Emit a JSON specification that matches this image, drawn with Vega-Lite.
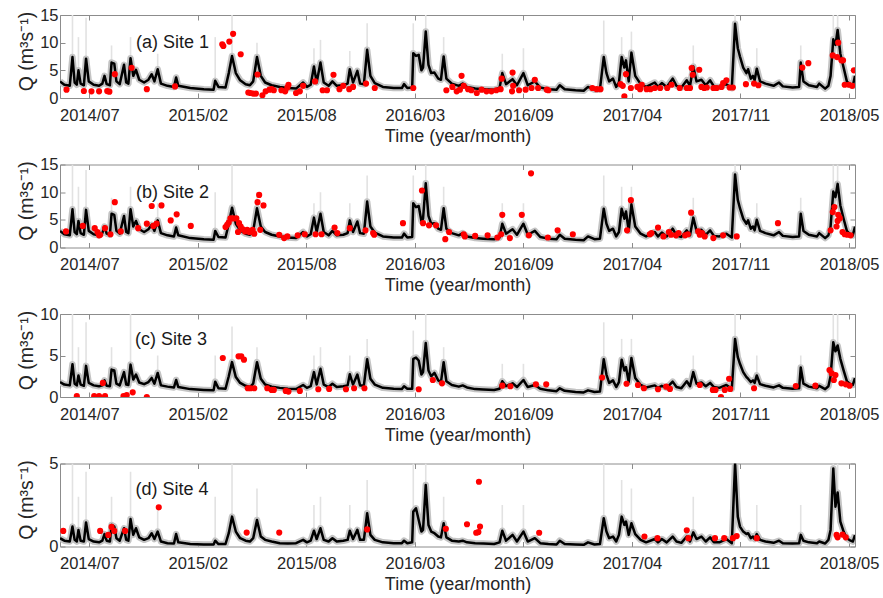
{
  "$schema": "https://vega.github.io/schema/vega-lite/v6.json",
  "background": "white",
  "padding": {"left": 16, "top": 7, "right": 5, "bottom": 0},
  "config": {
    "font": "Liberation Sans",
    "view": {"stroke": null},
    "axis": {
      "grid": false,
      "domainColor": "#8c8c8c",
      "domainWidth": 1,
      "tickColor": "#8c8c8c",
      "tickSize": -5,
      "labelFont": "Liberation Sans",
      "labelFontSize": 16.5,
      "labelColor": "#262626",
      "titleFont": "Liberation Sans",
      "titleFontSize": 18,
      "titleFontWeight": "normal",
      "titleColor": "#262626",
      "labelFlush": false,
      "labelOverlap": false
    },
    "axisX": {"labelPadding": 14, "titleY": 38, "titleBaseline": "middle"},
    "axisY": {"labelPadding": 7, "titleX": -34, "titleY": 36, "titleBaseline": "middle", "titleFontSize": 19.5}
  },
  "datasets": {
    "flow": [
      {"t":"2014-05-27","q1":3.0,"q2":3.0,"q3":1.8,"q4":0.5},
      {"t":"2014-06-04","q1":2.4,"q2":2.4,"q3":1.5,"q4":0.35},
      {"t":"2014-06-14","q1":2.2,"q2":2.2,"q3":1.4,"q4":0.3},
      {"t":"2014-06-19","q1":7.4,"q2":6.9,"q3":3.95,"q4":1.2,"u1":15,"u2":15,"u3":10,"u4":5},
      {"t":"2014-06-23","q1":2.8,"q2":2.8,"q3":1.6,"q4":0.4},
      {"t":"2014-06-27","q1":2.4,"q2":2.4,"q3":1.4,"q4":0.3},
      {"t":"2014-06-30","q1":5.0,"q2":4.8,"q3":2.6,"q4":1.0,"u1":11,"u2":11,"u3":6,"u4":3},
      {"t":"2014-07-04","q1":2.6,"q2":2.6,"q3":1.5,"q4":0.35},
      {"t":"2014-07-10","q1":2.3,"q2":2.3,"q3":1.35,"q4":0.3},
      {"t":"2014-07-14","q1":7.1,"q2":6.8,"q3":3.75,"q4":1.45,"u1":14.5,"u2":14,"u3":9,"u4":4.5},
      {"t":"2014-07-19","q1":3.0,"q2":3.0,"q3":1.7,"q4":0.45},
      {"t":"2014-07-28","q1":2.4,"q2":2.4,"q3":1.4,"q4":0.3},
      {"t":"2014-08-07","q1":2.2,"q2":2.2,"q3":1.3,"q4":0.25},
      {"t":"2014-08-13","q1":2.6,"q2":2.6,"q3":1.4,"q4":0.35},
      {"t":"2014-08-17","q1":4.0,"q2":3.8,"q3":2.0,"q4":0.75},
      {"t":"2014-08-21","q1":2.5,"q2":2.5,"q3":1.35,"q4":0.35},
      {"t":"2014-08-27","q1":2.3,"q2":2.3,"q3":1.3,"q4":0.3},
      {"t":"2014-08-30","q1":6.4,"q2":6.1,"q3":3.3,"q4":1.3,"u1":9.5,"u2":9,"u3":6,"u4":3},
      {"t":"2014-09-04","q1":6.2,"q2":5.9,"q3":3.2,"q4":1.2},
      {"t":"2014-09-08","q1":3.0,"q2":3.0,"q3":1.6,"q4":0.5},
      {"t":"2014-09-14","q1":2.5,"q2":2.5,"q3":1.4,"q4":0.35},
      {"t":"2014-09-22","q1":6.0,"q2":5.7,"q3":3.0,"q4":1.1},
      {"t":"2014-09-26","q1":2.8,"q2":2.8,"q3":1.5,"q4":0.4},
      {"t":"2014-09-30","q1":2.6,"q2":2.6,"q3":1.45,"q4":0.35},
      {"t":"2014-10-04","q1":7.2,"q2":6.9,"q3":3.9,"q4":1.65,"u1":11,"u2":11,"u3":10,"u4":4.5},
      {"t":"2014-10-09","q1":4.0,"q2":3.8,"q3":2.1,"q4":0.7},
      {"t":"2014-10-14","q1":5.1,"q2":4.8,"q3":2.7,"q4":1.1},
      {"t":"2014-10-20","q1":3.3,"q2":3.3,"q3":1.75,"q4":0.55},
      {"t":"2014-10-29","q1":2.8,"q2":2.8,"q3":1.55,"q4":0.4},
      {"t":"2014-11-06","q1":3.3,"q2":3.3,"q3":1.8,"q4":0.5},
      {"t":"2014-11-12","q1":4.3,"q2":4.1,"q3":2.3,"q4":0.8},
      {"t":"2014-11-17","q1":3.0,"q2":3.0,"q3":1.6,"q4":0.45},
      {"t":"2014-11-23","q1":5.2,"q2":4.9,"q3":2.9,"q4":0.9,"u1":8,"u2":8,"u3":5,"u4":2.5},
      {"t":"2014-11-29","q1":2.6,"q2":2.6,"q3":1.4,"q4":0.3},
      {"t":"2014-12-11","q1":2.2,"q2":2.2,"q3":1.25,"q4":0.2},
      {"t":"2014-12-23","q1":2.0,"q2":2.0,"q3":1.15,"q4":0.18},
      {"t":"2014-12-27","q1":3.7,"q2":3.6,"q3":2.05,"q4":0.75},
      {"t":"2014-12-31","q1":2.2,"q2":2.2,"q3":1.2,"q4":0.25},
      {"t":"2015-01-22","q1":1.8,"q2":1.7,"q3":0.95,"q4":0.15},
      {"t":"2015-02-16","q1":1.6,"q2":1.5,"q3":0.85,"q4":0.12},
      {"t":"2015-03-06","q1":1.5,"q2":1.4,"q3":0.8,"q4":0.12},
      {"t":"2015-03-09","q1":3.1,"q2":3.0,"q3":1.85,"q4":0.35,"u1":11,"u2":10,"u3":5,"u4":3},
      {"t":"2015-03-15","q1":2.0,"q2":1.9,"q3":1.05,"q4":0.15},
      {"t":"2015-03-28","q1":1.9,"q2":1.8,"q3":1.0,"q4":0.15},
      {"t":"2015-04-03","q1":4.5,"q2":4.3,"q3":2.5,"q4":0.8},
      {"t":"2015-04-09","q1":7.6,"q2":7.2,"q3":4.2,"q4":1.8,"u1":15,"u2":15,"u3":8.5,"u4":5},
      {"t":"2015-04-16","q1":4.5,"q2":4.3,"q3":2.4,"q4":0.9},
      {"t":"2015-04-24","q1":3.2,"q2":3.1,"q3":1.7,"q4":0.5},
      {"t":"2015-05-04","q1":2.5,"q2":2.5,"q3":1.35,"q4":0.35},
      {"t":"2015-05-12","q1":2.3,"q2":2.3,"q3":1.2,"q4":0.3},
      {"t":"2015-05-18","q1":3.0,"q2":3.0,"q3":1.6,"q4":0.5},
      {"t":"2015-05-25","q1":7.4,"q2":7.1,"q3":4.2,"q4":1.6,"u1":10,"u2":10,"u3":6,"u4":3.5},
      {"t":"2015-06-01","q1":4.0,"q2":3.8,"q3":2.2,"q4":0.6},
      {"t":"2015-06-09","q1":2.8,"q2":2.8,"q3":1.5,"q4":0.4},
      {"t":"2015-06-21","q1":2.3,"q2":2.3,"q3":1.25,"q4":0.3},
      {"t":"2015-07-06","q1":2.0,"q2":2.0,"q3":1.1,"q4":0.2},
      {"t":"2015-07-21","q1":1.8,"q2":1.8,"q3":1.0,"q4":0.18},
      {"t":"2015-08-05","q1":1.7,"q2":1.7,"q3":0.95,"q4":0.2},
      {"t":"2015-08-18","q1":2.8,"q2":2.8,"q3":1.45,"q4":0.4},
      {"t":"2015-08-25","q1":2.0,"q2":2.0,"q3":1.1,"q4":0.25},
      {"t":"2015-09-01","q1":2.4,"q2":2.4,"q3":1.3,"q4":0.35},
      {"t":"2015-09-07","q1":5.7,"q2":5.4,"q3":3.0,"q4":0.95,"u1":9,"u2":8,"u3":5,"u4":2.5},
      {"t":"2015-09-12","q1":2.8,"q2":2.8,"q3":1.5,"q4":0.45},
      {"t":"2015-09-19","q1":6.4,"q2":6.1,"q3":3.4,"q4":1.1,"u1":10.5,"u2":10,"u3":6,"u4":3},
      {"t":"2015-09-25","q1":2.8,"q2":2.8,"q3":1.5,"q4":0.4},
      {"t":"2015-10-04","q1":2.2,"q2":2.2,"q3":1.2,"q4":0.3},
      {"t":"2015-10-11","q1":3.0,"q2":3.0,"q3":1.6,"q4":0.5},
      {"t":"2015-10-19","q1":2.2,"q2":2.2,"q3":1.2,"q4":0.3},
      {"t":"2015-10-31","q1":2.3,"q2":2.3,"q3":1.3,"q4":0.35},
      {"t":"2015-11-08","q1":2.6,"q2":2.6,"q3":1.4,"q4":0.4},
      {"t":"2015-11-12","q1":5.2,"q2":4.9,"q3":2.75,"q4":0.95,"u1":8.5,"u2":8,"u3":5,"u4":2.5},
      {"t":"2015-11-18","q1":2.8,"q2":2.8,"q3":1.5,"q4":0.45},
      {"t":"2015-11-26","q1":4.9,"q2":4.7,"q3":2.7,"q4":1.0},
      {"t":"2015-12-01","q1":2.6,"q2":2.6,"q3":1.4,"q4":0.4},
      {"t":"2015-12-08","q1":2.5,"q2":2.5,"q3":1.4,"q4":0.4},
      {"t":"2015-12-14","q1":8.7,"q2":8.3,"q3":4.55,"q4":2.0,"u1":13.5,"u2":13,"u3":7,"u4":4},
      {"t":"2015-12-20","q1":4.0,"q2":3.8,"q3":2.2,"q4":0.7},
      {"t":"2015-12-28","q1":2.7,"q2":2.7,"q3":1.5,"q4":0.4},
      {"t":"2016-01-12","q1":2.0,"q2":2.0,"q3":1.1,"q4":0.25},
      {"t":"2016-02-01","q1":1.8,"q2":1.8,"q3":1.0,"q4":0.2},
      {"t":"2016-02-16","q1":1.8,"q2":1.8,"q3":0.95,"q4":0.2},
      {"t":"2016-02-20","q1":2.5,"q2":2.5,"q3":1.3,"q4":0.35},
      {"t":"2016-02-26","q1":1.8,"q2":1.8,"q3":1.0,"q4":0.2},
      {"t":"2016-03-06","q1":1.9,"q2":1.9,"q3":1.0,"q4":0.25},
      {"t":"2016-03-08","q1":8.1,"q2":8.0,"q3":4.6,"q4":2.1,"u1":13.5,"u2":13,"u3":8,"u4":5},
      {"t":"2016-03-13","q1":7.6,"q2":7.3,"q3":4.75,"q4":2.3},
      {"t":"2016-03-18","q1":7.8,"q2":7.5,"q3":4.4,"q4":1.6},
      {"t":"2016-03-23","q1":5.0,"q2":4.8,"q3":2.7,"q4":0.9},
      {"t":"2016-03-26","q1":5.5,"q2":5.2,"q3":3.0,"q4":1.0},
      {"t":"2016-03-31","q1":12.0,"q2":11.6,"q3":6.5,"q4":3.7,"u1":15,"u2":15,"u3":10,"u4":5},
      {"t":"2016-04-05","q1":6.0,"q2":5.7,"q3":3.2,"q4":1.3},
      {"t":"2016-04-10","q1":4.5,"q2":4.3,"q3":2.5,"q4":0.9},
      {"t":"2016-04-16","q1":4.6,"q2":4.4,"q3":2.9,"q4":0.8},
      {"t":"2016-04-23","q1":3.5,"q2":3.4,"q3":2.0,"q4":0.6},
      {"t":"2016-04-28","q1":3.3,"q2":3.2,"q3":1.8,"q4":0.55},
      {"t":"2016-05-03","q1":7.5,"q2":7.1,"q3":4.2,"q4":1.4,"u1":11,"u2":11,"u3":6,"u4":3},
      {"t":"2016-05-08","q1":3.5,"q2":3.4,"q3":1.9,"q4":0.55},
      {"t":"2016-05-18","q1":2.6,"q2":2.6,"q3":1.45,"q4":0.35},
      {"t":"2016-05-31","q1":2.2,"q2":2.2,"q3":1.25,"q4":0.3},
      {"t":"2016-06-07","q1":2.6,"q2":2.6,"q3":1.4,"q4":0.35},
      {"t":"2016-06-15","q1":2.0,"q2":2.0,"q3":1.15,"q4":0.25},
      {"t":"2016-06-30","q1":1.7,"q2":1.7,"q3":0.95,"q4":0.2},
      {"t":"2016-07-15","q1":1.6,"q2":1.6,"q3":0.9,"q4":0.18},
      {"t":"2016-08-04","q1":1.5,"q2":1.5,"q3":0.85,"q4":0.15},
      {"t":"2016-08-14","q1":1.8,"q2":1.8,"q3":1.0,"q4":0.25},
      {"t":"2016-08-19","q1":4.5,"q2":4.3,"q3":1.9,"q4":0.95,"u1":8,"u2":8,"u3":4,"u4":2.5},
      {"t":"2016-08-26","q1":2.5,"q2":2.5,"q3":1.3,"q4":0.35},
      {"t":"2016-09-07","q1":3.4,"q2":3.3,"q3":1.65,"q4":0.7},
      {"t":"2016-09-15","q1":2.3,"q2":2.3,"q3":1.2,"q4":0.3},
      {"t":"2016-09-27","q1":4.5,"q2":4.3,"q3":2.05,"q4":0.9,"u1":9,"u2":8,"u3":4,"u4":2.5},
      {"t":"2016-10-05","q1":2.3,"q2":2.3,"q3":1.2,"q4":0.3},
      {"t":"2016-10-18","q1":3.0,"q2":3.0,"q3":1.45,"q4":0.5},
      {"t":"2016-10-28","q1":1.9,"q2":1.9,"q3":1.0,"q4":0.2},
      {"t":"2016-11-12","q1":1.6,"q2":1.6,"q3":0.8,"q4":0.15},
      {"t":"2016-11-27","q1":1.5,"q2":1.5,"q3":0.7,"q4":0.12},
      {"t":"2016-12-03","q1":2.3,"q2":2.3,"q3":1.05,"q4":0.35},
      {"t":"2016-12-12","q1":1.6,"q2":1.6,"q3":0.75,"q4":0.15},
      {"t":"2017-01-01","q1":1.4,"q2":1.4,"q3":0.6,"q4":0.12},
      {"t":"2017-01-16","q1":1.3,"q2":1.3,"q3":0.55,"q4":0.1},
      {"t":"2017-01-24","q1":2.0,"q2":2.0,"q3":0.8,"q4":0.25},
      {"t":"2017-02-05","q1":1.5,"q2":1.5,"q3":0.6,"q4":0.12},
      {"t":"2017-02-15","q1":1.6,"q2":1.6,"q3":0.65,"q4":0.15},
      {"t":"2017-02-22","q1":7.4,"q2":7.0,"q3":4.55,"q4":1.7,"u1":14,"u2":13,"u3":9,"u4":5},
      {"t":"2017-02-27","q1":4.5,"q2":4.3,"q3":2.7,"q4":0.9},
      {"t":"2017-03-04","q1":3.0,"q2":3.0,"q3":1.7,"q4":0.5},
      {"t":"2017-03-11","q1":3.5,"q2":3.4,"q3":2.0,"q4":0.6},
      {"t":"2017-03-17","q1":2.0,"q2":2.0,"q3":1.2,"q4":0.3},
      {"t":"2017-03-22","q1":2.8,"q2":2.8,"q3":1.8,"q4":0.7},
      {"t":"2017-03-27","q1":7.4,"q2":7.0,"q3":4.5,"q4":1.8,"u1":11,"u2":11,"u3":7,"u4":4},
      {"t":"2017-04-01","q1":5.5,"q2":5.2,"q3":3.2,"q4":1.3},
      {"t":"2017-04-04","q1":6.8,"q2":6.5,"q3":3.6,"q4":1.5},
      {"t":"2017-04-09","q1":3.0,"q2":3.0,"q3":1.8,"q4":0.7},
      {"t":"2017-04-14","q1":8.2,"q2":7.8,"q3":4.7,"q4":1.4,"u1":12,"u2":11,"u3":7,"u4":3.5},
      {"t":"2017-04-21","q1":4.0,"q2":3.8,"q3":2.3,"q4":0.75},
      {"t":"2017-05-01","q1":2.5,"q2":2.5,"q3":1.45,"q4":0.4},
      {"t":"2017-05-11","q1":2.0,"q2":2.0,"q3":1.15,"q4":0.25},
      {"t":"2017-05-27","q1":2.8,"q2":2.8,"q3":1.4,"q4":0.45},
      {"t":"2017-06-02","q1":2.0,"q2":2.0,"q3":1.1,"q4":0.25},
      {"t":"2017-06-09","q1":2.7,"q2":2.7,"q3":1.35,"q4":0.45},
      {"t":"2017-06-18","q1":2.0,"q2":2.0,"q3":1.1,"q4":0.25},
      {"t":"2017-06-29","q1":3.5,"q2":3.4,"q3":1.85,"q4":0.6},
      {"t":"2017-07-06","q1":2.2,"q2":2.2,"q3":1.2,"q4":0.3},
      {"t":"2017-07-15","q1":1.9,"q2":1.9,"q3":1.05,"q4":0.22},
      {"t":"2017-07-25","q1":3.2,"q2":3.1,"q3":1.9,"q4":0.6},
      {"t":"2017-07-31","q1":2.2,"q2":2.2,"q3":1.3,"q4":0.3},
      {"t":"2017-08-06","q1":5.7,"q2":5.4,"q3":3.0,"q4":0.85,"u1":9.5,"u2":9,"u3":5,"u4":3},
      {"t":"2017-08-12","q1":3.0,"q2":3.0,"q3":1.6,"q4":0.45},
      {"t":"2017-08-21","q1":3.3,"q2":3.2,"q3":1.75,"q4":0.6},
      {"t":"2017-08-29","q1":2.3,"q2":2.3,"q3":1.3,"q4":0.3},
      {"t":"2017-09-06","q1":3.2,"q2":3.1,"q3":1.7,"q4":0.55},
      {"t":"2017-09-13","q1":2.1,"q2":2.1,"q3":1.2,"q4":0.25},
      {"t":"2017-09-23","q1":2.0,"q2":2.0,"q3":1.1,"q4":0.25},
      {"t":"2017-10-06","q1":2.5,"q2":2.5,"q3":1.45,"q4":0.45},
      {"t":"2017-10-16","q1":1.8,"q2":1.8,"q3":1.0,"q4":0.2},
      {"t":"2017-10-22","q1":13.4,"q2":13.2,"q3":7.0,"q4":5.0,"u1":15,"u2":15,"u3":10,"u4":5},
      {"t":"2017-10-27","q1":9.0,"q2":8.6,"q3":4.8,"q4":1.8},
      {"t":"2017-10-31","q1":7.5,"q2":7.1,"q3":4.0,"q4":1.2},
      {"t":"2017-11-06","q1":5.5,"q2":5.2,"q3":3.0,"q4":0.9},
      {"t":"2017-11-12","q1":4.5,"q2":4.3,"q3":2.4,"q4":0.75},
      {"t":"2017-11-15","q1":5.2,"q2":4.9,"q3":2.2,"q4":0.8},
      {"t":"2017-11-20","q1":3.5,"q2":3.4,"q3":1.8,"q4":0.5},
      {"t":"2017-11-24","q1":4.0,"q2":3.8,"q3":2.0,"q4":0.6},
      {"t":"2017-11-27","q1":3.2,"q2":3.1,"q3":1.7,"q4":0.45},
      {"t":"2017-12-01","q1":5.3,"q2":5.0,"q3":2.6,"q4":0.75,"u1":9,"u2":8,"u3":5,"u4":2.5},
      {"t":"2017-12-07","q1":3.0,"q2":3.0,"q3":1.55,"q4":0.4},
      {"t":"2017-12-17","q1":2.6,"q2":2.6,"q3":1.35,"q4":0.3},
      {"t":"2018-01-01","q1":2.2,"q2":2.2,"q3":1.15,"q4":0.22},
      {"t":"2018-01-11","q1":2.8,"q2":2.8,"q3":1.4,"q4":0.35},
      {"t":"2018-01-18","q1":2.1,"q2":2.1,"q3":1.1,"q4":0.2},
      {"t":"2018-02-05","q1":1.9,"q2":1.9,"q3":1.0,"q4":0.18},
      {"t":"2018-02-17","q1":2.0,"q2":2.0,"q3":1.05,"q4":0.2},
      {"t":"2018-02-20","q1":6.4,"q2":6.1,"q3":3.55,"q4":0.7,"u1":9.5,"u2":9,"u3":5,"u4":2.5},
      {"t":"2018-02-25","q1":3.0,"q2":3.0,"q3":1.6,"q4":0.35},
      {"t":"2018-03-07","q1":2.3,"q2":2.3,"q3":1.25,"q4":0.25},
      {"t":"2018-03-22","q1":2.0,"q2":2.0,"q3":1.05,"q4":0.2},
      {"t":"2018-03-26","q1":2.6,"q2":2.6,"q3":1.35,"q4":0.3},
      {"t":"2018-04-06","q1":1.7,"q2":1.7,"q3":0.95,"q4":0.18},
      {"t":"2018-04-12","q1":2.2,"q2":2.2,"q3":1.3,"q4":0.4},
      {"t":"2018-04-16","q1":4.0,"q2":3.8,"q3":2.5,"q4":1.0},
      {"t":"2018-04-21","q1":10.6,"q2":10.1,"q3":6.6,"q4":4.7,"u1":15,"u2":15,"u3":10,"u4":5},
      {"t":"2018-04-25","q1":9.6,"q2":9.1,"q3":5.5,"q4":2.4},
      {"t":"2018-04-29","q1":12.3,"q2":11.5,"q3":6.2,"q4":3.25,"u1":15,"u2":15,"u3":10,"u4":5},
      {"t":"2018-05-04","q1":8.0,"q2":7.6,"q3":4.6,"q4":1.5},
      {"t":"2018-05-10","q1":5.5,"q2":5.2,"q3":3.2,"q4":0.9},
      {"t":"2018-05-16","q1":3.0,"q2":3.0,"q3":1.9,"q4":0.5},
      {"t":"2018-05-23","q1":2.3,"q2":2.3,"q3":1.5,"q4":0.35},
      {"t":"2018-05-27","q1":2.2,"q2":2.2,"q3":1.45,"q4":0.3},
      {"t":"2018-05-31","q1":4.0,"q2":3.8,"q3":2.3,"q4":0.7}
    ],
    "obs": [
      {"s":1,"t":"2014-06-08","q":1.5},{"s":1,"t":"2014-07-10","q":1.26},{"s":1,"t":"2014-07-24","q":1.2},
      {"s":1,"t":"2014-08-07","q":1.2},{"s":1,"t":"2014-08-22","q":1.25},{"s":1,"t":"2014-08-26","q":1.15},
      {"s":1,"t":"2014-09-05","q":4.3},{"s":1,"t":"2014-10-06","q":5.45},{"s":1,"t":"2014-11-03","q":1.6},
      {"s":1,"t":"2014-12-25","q":2.1},{"s":1,"t":"2015-03-22","q":9.7},{"s":1,"t":"2015-03-24","q":9.4},
      {"s":1,"t":"2015-04-04","q":10.2},{"s":1,"t":"2015-04-11","q":11.6},{"s":1,"t":"2015-04-25","q":7.9},
      {"s":1,"t":"2015-05-09","q":1.0},{"s":1,"t":"2015-05-13","q":0.9},{"s":1,"t":"2015-05-18","q":0.8},
      {"s":1,"t":"2015-05-23","q":0.8},{"s":1,"t":"2015-05-26","q":4.25},{"s":1,"t":"2015-06-04","q":0.5},
      {"s":1,"t":"2015-06-10","q":1.2},{"s":1,"t":"2015-06-17","q":1.5},{"s":1,"t":"2015-06-21","q":1.6},
      {"s":1,"t":"2015-06-25","q":1.4},{"s":1,"t":"2015-07-09","q":1.4},{"s":1,"t":"2015-07-16","q":1.2},
      {"s":1,"t":"2015-07-20","q":1.9},{"s":1,"t":"2015-07-22","q":2.4},{"s":1,"t":"2015-08-05","q":0.9},
      {"s":1,"t":"2015-08-12","q":1.2},{"s":1,"t":"2015-08-18","q":2.2},{"s":1,"t":"2015-09-09","q":3.0},
      {"s":1,"t":"2015-09-23","q":1.4},{"s":1,"t":"2015-10-01","q":1.4},{"s":1,"t":"2015-10-13","q":4.2},
      {"s":1,"t":"2015-10-24","q":1.6},{"s":1,"t":"2015-10-31","q":2.2},{"s":1,"t":"2015-11-11","q":1.6},
      {"s":1,"t":"2015-11-18","q":2.0},{"s":1,"t":"2015-12-12","q":2.6},{"s":1,"t":"2015-12-28","q":1.8},
      {"s":1,"t":"2016-03-08","q":1.8},{"s":1,"t":"2016-05-08","q":1.4},{"s":1,"t":"2016-05-19","q":2.0},
      {"s":1,"t":"2016-05-27","q":1.2},{"s":1,"t":"2016-06-02","q":1.5},{"s":1,"t":"2016-06-05","q":4.0},
      {"s":1,"t":"2016-06-09","q":2.2},{"s":1,"t":"2016-06-17","q":1.6},{"s":1,"t":"2016-06-23","q":1.4},
      {"s":1,"t":"2016-07-03","q":0.9},{"s":1,"t":"2016-07-12","q":1.5},{"s":1,"t":"2016-07-21","q":1.2},
      {"s":1,"t":"2016-07-30","q":1.2},{"s":1,"t":"2016-08-08","q":1.4},{"s":1,"t":"2016-08-16","q":1.6},
      {"s":1,"t":"2016-08-18","q":3.5},{"s":1,"t":"2016-09-06","q":1.2},{"s":1,"t":"2016-09-07","q":4.6},
      {"s":1,"t":"2016-09-08","q":2.2},{"s":1,"t":"2016-09-19","q":1.4},{"s":1,"t":"2016-10-01","q":1.5},
      {"s":1,"t":"2016-10-12","q":1.8},{"s":1,"t":"2016-10-18","q":3.3},{"s":1,"t":"2016-10-24","q":1.8},
      {"s":1,"t":"2016-11-09","q":1.5},{"s":1,"t":"2016-11-12","q":1.4},{"s":1,"t":"2017-02-01","q":1.8},
      {"s":1,"t":"2017-02-09","q":1.6},{"s":1,"t":"2017-02-16","q":1.6},{"s":1,"t":"2017-03-25","q":2.5},
      {"s":1,"t":"2017-03-29","q":2.2},{"s":1,"t":"2017-04-01","q":0.3},{"s":1,"t":"2017-04-04","q":4.3},
      {"s":1,"t":"2017-04-13","q":1.8},{"s":1,"t":"2017-04-25","q":2.0},{"s":1,"t":"2017-04-30","q":1.6},
      {"s":1,"t":"2017-05-03","q":2.4},{"s":1,"t":"2017-05-12","q":1.6},{"s":1,"t":"2017-05-19","q":1.6},
      {"s":1,"t":"2017-05-27","q":1.8},{"s":1,"t":"2017-06-06","q":1.8},{"s":1,"t":"2017-06-19","q":1.8},
      {"s":1,"t":"2017-06-27","q":2.4},{"s":1,"t":"2017-07-12","q":1.8},{"s":1,"t":"2017-07-25","q":1.8},
      {"s":1,"t":"2017-07-31","q":1.8},{"s":1,"t":"2017-08-03","q":5.4},{"s":1,"t":"2017-08-05","q":4.2},
      {"s":1,"t":"2017-08-17","q":5.1},{"s":1,"t":"2017-08-21","q":2.0},{"s":1,"t":"2017-08-26","q":1.8},
      {"s":1,"t":"2017-08-31","q":1.9},{"s":1,"t":"2017-09-12","q":1.8},{"s":1,"t":"2017-09-18","q":1.8},
      {"s":1,"t":"2017-09-27","q":2.0},{"s":1,"t":"2017-09-30","q":2.7},{"s":1,"t":"2017-10-06","q":3.2},
      {"s":1,"t":"2017-10-12","q":1.9},{"s":1,"t":"2017-10-18","q":1.9},{"s":1,"t":"2017-11-11","q":2.5},
      {"s":1,"t":"2017-11-26","q":2.6},{"s":1,"t":"2017-12-04","q":2.3},{"s":1,"t":"2018-02-23","q":5.5},
      {"s":1,"t":"2018-03-06","q":6.3},{"s":1,"t":"2018-04-20","q":7.7},{"s":1,"t":"2018-04-28","q":7.4},
      {"s":1,"t":"2018-04-30","q":10.0},{"s":1,"t":"2018-05-06","q":6.8},{"s":1,"t":"2018-05-09","q":6.8},
      {"s":1,"t":"2018-05-12","q":2.4},{"s":1,"t":"2018-05-20","q":2.4},{"s":1,"t":"2018-05-26","q":2.2},
      {"s":1,"t":"2018-05-29","q":5.0},
      {"s":2,"t":"2014-06-07","q":2.9},{"s":2,"t":"2014-07-08","q":3.9},{"s":2,"t":"2014-07-30","q":3.5},
      {"s":2,"t":"2014-08-04","q":2.8},{"s":2,"t":"2014-08-07","q":2.2},{"s":2,"t":"2014-08-09","q":2.3},
      {"s":2,"t":"2014-08-18","q":3.5},{"s":2,"t":"2014-08-28","q":2.4},{"s":2,"t":"2014-09-05","q":8.2},
      {"s":2,"t":"2014-09-16","q":2.9},{"s":2,"t":"2014-10-18","q":3.5},{"s":2,"t":"2014-11-03","q":4.3},
      {"s":2,"t":"2014-11-12","q":7.5},{"s":2,"t":"2014-11-15","q":3.9},{"s":2,"t":"2014-11-21","q":4.3},
      {"s":2,"t":"2014-11-30","q":7.6},{"s":2,"t":"2014-12-17","q":4.9},{"s":2,"t":"2014-12-28","q":6.0},
      {"s":2,"t":"2015-01-23","q":3.9},{"s":2,"t":"2015-03-28","q":3.7},{"s":2,"t":"2015-03-31","q":4.1},
      {"s":2,"t":"2015-04-03","q":4.5},{"s":2,"t":"2015-04-06","q":5.25},{"s":2,"t":"2015-04-11","q":5.25},
      {"s":2,"t":"2015-04-17","q":5.25},{"s":2,"t":"2015-04-20","q":2.8},{"s":2,"t":"2015-04-22","q":4.4},
      {"s":2,"t":"2015-04-25","q":3.8},{"s":2,"t":"2015-04-29","q":3.3},{"s":2,"t":"2015-05-03","q":2.9},
      {"s":2,"t":"2015-05-07","q":3.2},{"s":2,"t":"2015-05-11","q":2.8},{"s":2,"t":"2015-05-17","q":3.2},
      {"s":2,"t":"2015-05-20","q":2.5},{"s":2,"t":"2015-05-26","q":8.2},{"s":2,"t":"2015-05-29","q":9.5},
      {"s":2,"t":"2015-05-31","q":3.2},{"s":2,"t":"2015-06-06","q":7.6},{"s":2,"t":"2015-07-05","q":2.3},
      {"s":2,"t":"2015-07-14","q":1.7},{"s":2,"t":"2015-07-20","q":2.0},{"s":2,"t":"2015-08-08","q":2.2},
      {"s":2,"t":"2015-08-21","q":2.4},{"s":2,"t":"2015-09-10","q":2.4},{"s":2,"t":"2015-09-21","q":2.4},
      {"s":2,"t":"2015-10-15","q":3.6},{"s":2,"t":"2015-10-20","q":2.6},{"s":2,"t":"2015-11-12","q":3.5},
      {"s":2,"t":"2015-12-11","q":3.1},{"s":2,"t":"2015-12-25","q":2.6},{"s":2,"t":"2015-12-27","q":2.3},
      {"s":2,"t":"2016-02-18","q":4.4},{"s":2,"t":"2016-03-24","q":10.3},{"s":2,"t":"2016-03-26","q":4.4},
      {"s":2,"t":"2016-04-06","q":4.0},{"s":2,"t":"2016-04-19","q":4.0},{"s":2,"t":"2016-05-06","q":1.5},
      {"s":2,"t":"2016-05-13","q":2.8},{"s":2,"t":"2016-06-09","q":2.4},{"s":2,"t":"2016-06-11","q":2.0},
      {"s":2,"t":"2016-06-30","q":2.1},{"s":2,"t":"2016-07-23","q":2.2},{"s":2,"t":"2016-08-10","q":1.8},
      {"s":2,"t":"2016-08-17","q":2.4},{"s":2,"t":"2016-08-19","q":5.9},{"s":2,"t":"2016-09-02","q":1.7},
      {"s":2,"t":"2016-09-24","q":5.9},{"s":2,"t":"2016-10-07","q":2.2},{"s":2,"t":"2016-10-11","q":13.4},
      {"s":2,"t":"2016-11-11","q":1.8},{"s":2,"t":"2016-11-29","q":3.1},{"s":2,"t":"2016-12-27","q":2.4},
      {"s":2,"t":"2017-04-06","q":3.1},{"s":2,"t":"2017-04-13","q":8.55},{"s":2,"t":"2017-05-18","q":2.4},
      {"s":2,"t":"2017-05-21","q":2.6},{"s":2,"t":"2017-06-02","q":3.6},{"s":2,"t":"2017-06-12","q":2.0},
      {"s":2,"t":"2017-06-22","q":2.8},{"s":2,"t":"2017-06-26","q":2.3},{"s":2,"t":"2017-07-05","q":2.2},
      {"s":2,"t":"2017-07-10","q":2.6},{"s":2,"t":"2017-07-22","q":2.2},{"s":2,"t":"2017-07-27","q":2.4},
      {"s":2,"t":"2017-08-02","q":6.3},{"s":2,"t":"2017-08-15","q":2.9},{"s":2,"t":"2017-08-18","q":2.3},
      {"s":2,"t":"2017-08-22","q":2.6},{"s":2,"t":"2017-08-27","q":2.0},{"s":2,"t":"2017-09-12","q":1.7},
      {"s":2,"t":"2017-09-30","q":2.2},{"s":2,"t":"2017-10-25","q":2.0},{"s":2,"t":"2018-01-09","q":4.4},
      {"s":2,"t":"2018-04-16","q":3.1},{"s":2,"t":"2018-04-20","q":6.4},{"s":2,"t":"2018-04-23","q":7.3},
      {"s":2,"t":"2018-04-27","q":3.8},{"s":2,"t":"2018-04-29","q":4.8},{"s":2,"t":"2018-04-30","q":5.9},
      {"s":2,"t":"2018-05-03","q":5.3},{"s":2,"t":"2018-05-08","q":2.8},{"s":2,"t":"2018-05-12","q":2.4},
      {"s":2,"t":"2018-05-17","q":2.3},{"s":2,"t":"2018-05-23","q":2.2},
      {"s":3,"t":"2014-06-27","q":0.1},{"s":3,"t":"2014-07-29","q":0.1},{"s":3,"t":"2014-08-07","q":0.1},
      {"s":3,"t":"2014-08-14","q":1.7},{"s":3,"t":"2014-08-18","q":0.1},{"s":3,"t":"2014-09-21","q":0.12},
      {"s":3,"t":"2014-09-27","q":0.24},{"s":3,"t":"2014-10-08","q":0.56},{"s":3,"t":"2014-11-03","q":0.0},
      {"s":3,"t":"2015-03-23","q":4.7},{"s":3,"t":"2015-04-21","q":4.9},{"s":3,"t":"2015-04-26","q":4.9},
      {"s":3,"t":"2015-05-01","q":4.5},{"s":3,"t":"2015-05-08","q":1.05},{"s":3,"t":"2015-05-13","q":1.05},
      {"s":3,"t":"2015-05-20","q":1.05},{"s":3,"t":"2015-06-13","q":1.05},{"s":3,"t":"2015-06-21","q":0.85},
      {"s":3,"t":"2015-06-25","q":0.85},{"s":3,"t":"2015-07-17","q":0.73},{"s":3,"t":"2015-07-22","q":0.65},
      {"s":3,"t":"2015-08-12","q":0.73},{"s":3,"t":"2015-09-15","q":0.93},{"s":3,"t":"2015-10-05","q":0.97},
      {"s":3,"t":"2015-11-05","q":0.93},{"s":3,"t":"2015-11-20","q":1.05},{"s":3,"t":"2015-12-09","q":1.05},
      {"s":3,"t":"2016-03-18","q":0.93},{"s":3,"t":"2016-04-13","q":2.05},{"s":3,"t":"2016-04-30","q":1.65},
      {"s":3,"t":"2016-08-19","q":1.37},{"s":3,"t":"2016-09-03","q":1.3},{"s":3,"t":"2016-10-20","q":1.53},
      {"s":3,"t":"2016-11-08","q":1.53},{"s":3,"t":"2017-02-19","q":2.35},{"s":3,"t":"2017-04-05","q":1.6},
      {"s":3,"t":"2017-04-26","q":1.45},{"s":3,"t":"2017-05-07","q":1.05},{"s":3,"t":"2017-06-02","q":0.93},
      {"s":3,"t":"2017-06-17","q":1.25},{"s":3,"t":"2017-06-24","q":0.97},{"s":3,"t":"2017-08-18","q":1.45},
      {"s":3,"t":"2017-09-11","q":0.85},{"s":3,"t":"2017-09-16","q":0.85},{"s":3,"t":"2017-09-26","q":0.0},
      {"s":3,"t":"2017-10-03","q":0.85},{"s":3,"t":"2017-10-11","q":2.2},{"s":3,"t":"2017-10-13","q":0.97},
      {"s":3,"t":"2017-11-26","q":1.05},{"s":3,"t":"2018-02-11","q":1.33},{"s":3,"t":"2018-03-19","q":1.37},
      {"s":3,"t":"2018-04-14","q":3.25},{"s":3,"t":"2018-04-18","q":2.85},{"s":3,"t":"2018-04-22","q":2.05},
      {"s":3,"t":"2018-04-25","q":2.65},{"s":3,"t":"2018-05-06","q":1.65},{"s":3,"t":"2018-05-14","q":1.53},
      {"s":3,"t":"2018-05-21","q":1.37},
      {"s":4,"t":"2014-06-02","q":0.94},{"s":4,"t":"2014-08-09","q":0.94},{"s":4,"t":"2014-08-24","q":0.7},
      {"s":4,"t":"2014-08-30","q":1.18},{"s":4,"t":"2014-09-04","q":0.94},{"s":4,"t":"2014-09-24","q":0.94},
      {"s":4,"t":"2014-11-25","q":2.36},{"s":4,"t":"2015-05-06","q":0.84},{"s":4,"t":"2015-07-05","q":0.84},
      {"s":4,"t":"2015-12-14","q":1.03},{"s":4,"t":"2016-05-07","q":1.07},{"s":4,"t":"2016-06-15","q":1.34},
      {"s":4,"t":"2016-07-02","q":0.83},{"s":4,"t":"2016-07-06","q":0.87},{"s":4,"t":"2016-07-07","q":3.9},
      {"s":4,"t":"2016-07-09","q":1.2},{"s":4,"t":"2016-10-26","q":0.83},{"s":4,"t":"2017-05-08","q":0.6},
      {"s":4,"t":"2017-06-01","q":0.5},{"s":4,"t":"2017-07-25","q":0.98},{"s":4,"t":"2017-07-28","q":0.5},
      {"s":4,"t":"2017-09-15","q":0.5},{"s":4,"t":"2017-10-02","q":0.5},{"s":4,"t":"2017-10-18","q":0.5},
      {"s":4,"t":"2017-10-25","q":0.63},{"s":4,"t":"2017-12-01","q":0.5},{"s":4,"t":"2018-04-27","q":0.7},
      {"s":4,"t":"2018-04-29","q":0.55},{"s":4,"t":"2018-05-08","q":0.72},{"s":4,"t":"2018-05-14","q":0.55}
    ]
  },
  "spacing": 66.5,
  "bounds": "flush",
  "vconcat": [
    {
      "width": 795, "height": 83,
      "data": {"name": "flow"},
      "resolve": {"axis": {"x": "independent", "y": "independent"}},
      "layer": [
        {
          "transform": [{"filter": "isValid(datum.u1)"}],
          "mark": {"type": "rule", "color": "#e2e2e2", "strokeWidth": 1.6, "clip": true},
          "encoding": {
            "x": {"field": "t", "type": "temporal", "axis": null},
            "y": {"field": "q1", "type": "quantitative", "axis": null},
            "y2": {"field": "u1"}
          }
        },
        {
          "mark": {"type": "line", "color": "#c4c4c4", "strokeWidth": 6.5, "strokeJoin": "round", "clip": true},
          "encoding": {
            "x": {"field": "t", "type": "temporal", "axis": null},
            "y": {"field": "q1", "type": "quantitative", "axis": null}
          }
        },
        {
          "mark": {"type": "line", "color": "black", "strokeWidth": 2.5, "strokeJoin": "round", "clip": true},
          "encoding": {
            "x": {"field": "t", "type": "temporal",
              "scale": {"type": "utc", "nice": false, "domain": [{"year": 2014, "month": 5, "date": 27, "utc": true}, {"year": 2018, "month": 5, "date": 31, "utc": true}]},
              "axis": {"orient": "bottom", "format": "%Y/%m", "title": "Time (year/month)",
                "values": [{"year": 2014, "month": 7, "date": 20, "utc": true}, {"year": 2015, "month": 2, "date": 5, "utc": true}, {"year": 2015, "month": 8, "date": 24, "utc": true}, {"year": 2016, "month": 3, "date": 11, "utc": true}, {"year": 2016, "month": 9, "date": 27, "utc": true}, {"year": 2017, "month": 4, "date": 15, "utc": true}, {"year": 2017, "month": 11, "date": 1, "utc": true}, {"year": 2018, "month": 5, "date": 20, "utc": true}]}},
            "y": {"field": "q1", "type": "quantitative",
              "scale": {"domain": [0, 15], "nice": false},
              "axis": {"orient": "left", "values": [0, 5, 10, 15], "title": "Q (m³s⁻¹)"}}
          }
        },
        {
          "data": {"name": "obs"},
          "transform": [{"filter": "datum.s == 1"}],
          "mark": {"type": "circle", "color": "#ff0000", "size": 38, "opacity": 1, "clip": true},
          "encoding": {
            "x": {"field": "t", "type": "temporal",
              "axis": {"orient": "top", "labels": false, "title": null,
                "values": [{"year": 2014, "month": 7, "date": 20, "utc": true}, {"year": 2015, "month": 2, "date": 5, "utc": true}, {"year": 2015, "month": 8, "date": 24, "utc": true}, {"year": 2016, "month": 3, "date": 11, "utc": true}, {"year": 2016, "month": 9, "date": 27, "utc": true}, {"year": 2017, "month": 4, "date": 15, "utc": true}, {"year": 2017, "month": 11, "date": 1, "utc": true}, {"year": 2018, "month": 5, "date": 20, "utc": true}]}},
            "y": {"field": "q", "type": "quantitative",
              "axis": {"orient": "right", "labels": false, "title": null, "values": [0, 5, 10, 15]}}
          }
        },
        {
          "data": {"values": [{"t": "2014-10-14", "q": 10, "label": "(a) Site 1"}]},
          "mark": {"type": "text", "align": "left", "baseline": "middle", "fontSize": 18, "font": "Liberation Sans", "color": "#1a1a1a"},
          "encoding": {
            "x": {"field": "t", "type": "temporal", "axis": null},
            "y": {"field": "q", "type": "quantitative", "axis": null},
            "text": {"field": "label"}
          }
        }
      ]
    },
    {
      "width": 795, "height": 83,
      "data": {"name": "flow"},
      "resolve": {"axis": {"x": "independent", "y": "independent"}},
      "layer": [
        {
          "transform": [{"filter": "isValid(datum.u2)"}],
          "mark": {"type": "rule", "color": "#e2e2e2", "strokeWidth": 1.6, "clip": true},
          "encoding": {
            "x": {"field": "t", "type": "temporal", "axis": null},
            "y": {"field": "q2", "type": "quantitative", "axis": null},
            "y2": {"field": "u2"}
          }
        },
        {
          "mark": {"type": "line", "color": "#c4c4c4", "strokeWidth": 6.5, "strokeJoin": "round", "clip": true},
          "encoding": {
            "x": {"field": "t", "type": "temporal", "axis": null},
            "y": {"field": "q2", "type": "quantitative", "axis": null}
          }
        },
        {
          "mark": {"type": "line", "color": "black", "strokeWidth": 2.5, "strokeJoin": "round", "clip": true},
          "encoding": {
            "x": {"field": "t", "type": "temporal",
              "scale": {"type": "utc", "nice": false, "domain": [{"year": 2014, "month": 5, "date": 27, "utc": true}, {"year": 2018, "month": 5, "date": 31, "utc": true}]},
              "axis": {"orient": "bottom", "format": "%Y/%m", "title": "Time (year/month)",
                "values": [{"year": 2014, "month": 7, "date": 20, "utc": true}, {"year": 2015, "month": 2, "date": 5, "utc": true}, {"year": 2015, "month": 8, "date": 24, "utc": true}, {"year": 2016, "month": 3, "date": 11, "utc": true}, {"year": 2016, "month": 9, "date": 27, "utc": true}, {"year": 2017, "month": 4, "date": 15, "utc": true}, {"year": 2017, "month": 11, "date": 1, "utc": true}, {"year": 2018, "month": 5, "date": 20, "utc": true}]}},
            "y": {"field": "q2", "type": "quantitative",
              "scale": {"domain": [0, 15], "nice": false},
              "axis": {"orient": "left", "values": [0, 5, 10, 15], "title": "Q (m³s⁻¹)"}}
          }
        },
        {
          "data": {"name": "obs"},
          "transform": [{"filter": "datum.s == 2"}],
          "mark": {"type": "circle", "color": "#ff0000", "size": 38, "opacity": 1, "clip": true},
          "encoding": {
            "x": {"field": "t", "type": "temporal",
              "axis": {"orient": "top", "labels": false, "title": null,
                "values": [{"year": 2014, "month": 7, "date": 20, "utc": true}, {"year": 2015, "month": 2, "date": 5, "utc": true}, {"year": 2015, "month": 8, "date": 24, "utc": true}, {"year": 2016, "month": 3, "date": 11, "utc": true}, {"year": 2016, "month": 9, "date": 27, "utc": true}, {"year": 2017, "month": 4, "date": 15, "utc": true}, {"year": 2017, "month": 11, "date": 1, "utc": true}, {"year": 2018, "month": 5, "date": 20, "utc": true}]}},
            "y": {"field": "q", "type": "quantitative",
              "axis": {"orient": "right", "labels": false, "title": null, "values": [0, 5, 10, 15]}}
          }
        },
        {
          "data": {"values": [{"t": "2014-10-14", "q": 9.8, "label": "(b) Site 2"}]},
          "mark": {"type": "text", "align": "left", "baseline": "middle", "fontSize": 18, "font": "Liberation Sans", "color": "#1a1a1a"},
          "encoding": {
            "x": {"field": "t", "type": "temporal", "axis": null},
            "y": {"field": "q", "type": "quantitative", "axis": null},
            "text": {"field": "label"}
          }
        }
      ]
    },
    {
      "width": 795, "height": 83,
      "data": {"name": "flow"},
      "resolve": {"axis": {"x": "independent", "y": "independent"}},
      "layer": [
        {
          "transform": [{"filter": "isValid(datum.u3)"}],
          "mark": {"type": "rule", "color": "#e2e2e2", "strokeWidth": 1.6, "clip": true},
          "encoding": {
            "x": {"field": "t", "type": "temporal", "axis": null},
            "y": {"field": "q3", "type": "quantitative", "axis": null},
            "y2": {"field": "u3"}
          }
        },
        {
          "mark": {"type": "line", "color": "#c4c4c4", "strokeWidth": 6.5, "strokeJoin": "round", "clip": true},
          "encoding": {
            "x": {"field": "t", "type": "temporal", "axis": null},
            "y": {"field": "q3", "type": "quantitative", "axis": null}
          }
        },
        {
          "mark": {"type": "line", "color": "black", "strokeWidth": 2.5, "strokeJoin": "round", "clip": true},
          "encoding": {
            "x": {"field": "t", "type": "temporal",
              "scale": {"type": "utc", "nice": false, "domain": [{"year": 2014, "month": 5, "date": 27, "utc": true}, {"year": 2018, "month": 5, "date": 31, "utc": true}]},
              "axis": {"orient": "bottom", "format": "%Y/%m", "title": "Time (year/month)",
                "values": [{"year": 2014, "month": 7, "date": 20, "utc": true}, {"year": 2015, "month": 2, "date": 5, "utc": true}, {"year": 2015, "month": 8, "date": 24, "utc": true}, {"year": 2016, "month": 3, "date": 11, "utc": true}, {"year": 2016, "month": 9, "date": 27, "utc": true}, {"year": 2017, "month": 4, "date": 15, "utc": true}, {"year": 2017, "month": 11, "date": 1, "utc": true}, {"year": 2018, "month": 5, "date": 20, "utc": true}]}},
            "y": {"field": "q3", "type": "quantitative",
              "scale": {"domain": [0, 10], "nice": false},
              "axis": {"orient": "left", "values": [0, 5, 10], "title": "Q (m³s⁻¹)"}}
          }
        },
        {
          "data": {"name": "obs"},
          "transform": [{"filter": "datum.s == 3"}],
          "mark": {"type": "circle", "color": "#ff0000", "size": 38, "opacity": 1, "clip": true},
          "encoding": {
            "x": {"field": "t", "type": "temporal",
              "axis": {"orient": "top", "labels": false, "title": null,
                "values": [{"year": 2014, "month": 7, "date": 20, "utc": true}, {"year": 2015, "month": 2, "date": 5, "utc": true}, {"year": 2015, "month": 8, "date": 24, "utc": true}, {"year": 2016, "month": 3, "date": 11, "utc": true}, {"year": 2016, "month": 9, "date": 27, "utc": true}, {"year": 2017, "month": 4, "date": 15, "utc": true}, {"year": 2017, "month": 11, "date": 1, "utc": true}, {"year": 2018, "month": 5, "date": 20, "utc": true}]}},
            "y": {"field": "q", "type": "quantitative",
              "axis": {"orient": "right", "labels": false, "title": null, "values": [0, 5, 10]}}
          }
        },
        {
          "data": {"values": [{"t": "2014-10-12", "q": 6.9, "label": "(c) Site 3"}]},
          "mark": {"type": "text", "align": "left", "baseline": "middle", "fontSize": 18, "font": "Liberation Sans", "color": "#1a1a1a"},
          "encoding": {
            "x": {"field": "t", "type": "temporal", "axis": null},
            "y": {"field": "q", "type": "quantitative", "axis": null},
            "text": {"field": "label"}
          }
        }
      ]
    },
    {
      "width": 795, "height": 83,
      "data": {"name": "flow"},
      "resolve": {"axis": {"x": "independent", "y": "independent"}},
      "layer": [
        {
          "transform": [{"filter": "isValid(datum.u4)"}],
          "mark": {"type": "rule", "color": "#e2e2e2", "strokeWidth": 1.6, "clip": true},
          "encoding": {
            "x": {"field": "t", "type": "temporal", "axis": null},
            "y": {"field": "q4", "type": "quantitative", "axis": null},
            "y2": {"field": "u4"}
          }
        },
        {
          "mark": {"type": "line", "color": "#c4c4c4", "strokeWidth": 6.5, "strokeJoin": "round", "clip": true},
          "encoding": {
            "x": {"field": "t", "type": "temporal", "axis": null},
            "y": {"field": "q4", "type": "quantitative", "axis": null}
          }
        },
        {
          "mark": {"type": "line", "color": "black", "strokeWidth": 2.5, "strokeJoin": "round", "clip": true},
          "encoding": {
            "x": {"field": "t", "type": "temporal",
              "scale": {"type": "utc", "nice": false, "domain": [{"year": 2014, "month": 5, "date": 27, "utc": true}, {"year": 2018, "month": 5, "date": 31, "utc": true}]},
              "axis": {"orient": "bottom", "format": "%Y/%m", "title": "Time (year/month)",
                "values": [{"year": 2014, "month": 7, "date": 20, "utc": true}, {"year": 2015, "month": 2, "date": 5, "utc": true}, {"year": 2015, "month": 8, "date": 24, "utc": true}, {"year": 2016, "month": 3, "date": 11, "utc": true}, {"year": 2016, "month": 9, "date": 27, "utc": true}, {"year": 2017, "month": 4, "date": 15, "utc": true}, {"year": 2017, "month": 11, "date": 1, "utc": true}, {"year": 2018, "month": 5, "date": 20, "utc": true}]}},
            "y": {"field": "q4", "type": "quantitative",
              "scale": {"domain": [0, 5], "nice": false},
              "axis": {"orient": "left", "values": [0, 5], "title": "Q (m³s⁻¹)"}}
          }
        },
        {
          "data": {"name": "obs"},
          "transform": [{"filter": "datum.s == 4"}],
          "mark": {"type": "circle", "color": "#ff0000", "size": 38, "opacity": 1, "clip": true},
          "encoding": {
            "x": {"field": "t", "type": "temporal",
              "axis": {"orient": "top", "labels": false, "title": null,
                "values": [{"year": 2014, "month": 7, "date": 20, "utc": true}, {"year": 2015, "month": 2, "date": 5, "utc": true}, {"year": 2015, "month": 8, "date": 24, "utc": true}, {"year": 2016, "month": 3, "date": 11, "utc": true}, {"year": 2016, "month": 9, "date": 27, "utc": true}, {"year": 2017, "month": 4, "date": 15, "utc": true}, {"year": 2017, "month": 11, "date": 1, "utc": true}, {"year": 2018, "month": 5, "date": 20, "utc": true}]}},
            "y": {"field": "q", "type": "quantitative",
              "axis": {"orient": "right", "labels": false, "title": null, "values": [0, 5]}}
          }
        },
        {
          "data": {"values": [{"t": "2014-10-13", "q": 3.4, "label": "(d) Site 4"}]},
          "mark": {"type": "text", "align": "left", "baseline": "middle", "fontSize": 18, "font": "Liberation Sans", "color": "#1a1a1a"},
          "encoding": {
            "x": {"field": "t", "type": "temporal", "axis": null},
            "y": {"field": "q", "type": "quantitative", "axis": null},
            "text": {"field": "label"}
          }
        }
      ]
    }
  ]
}
